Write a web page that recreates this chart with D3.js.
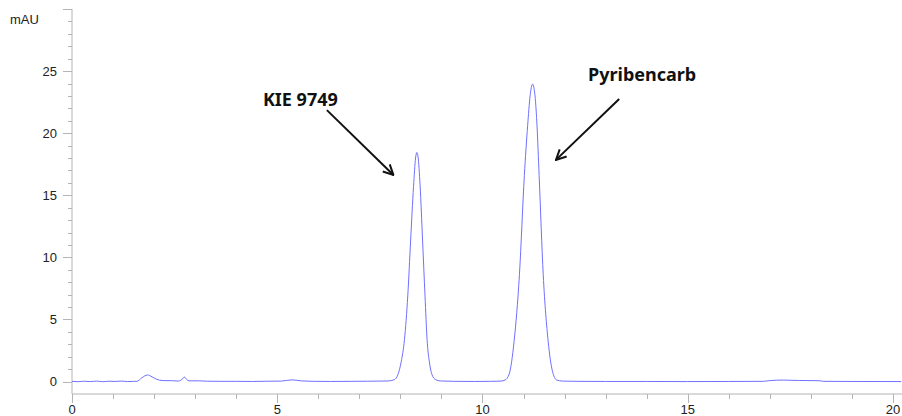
<!DOCTYPE html>
<html>
<head>
<meta charset="utf-8">
<script src="https://cdn.jsdelivr.net/npm/d3@7"></script>
<style>
  body { margin: 0; background: #fff; }
  svg { display: block; }
</style>
</head>
<body>
<div id="chart"></div>
<script>
// chromatogram trace: [time (min), signal (mAU)]
const baselineStart = [
  [0.00, 0.02], [0.15, -0.01], [0.30, 0.03], [0.45, 0.00], [0.60, 0.04], [0.75, -0.01],
  [0.90, 0.03], [1.05, 0.01], [1.20, 0.04], [1.35, 0.00], [1.50, 0.02], [1.58, 0.02],
  [1.70, 0.30], [1.84, 0.53], [1.95, 0.38], [2.05, 0.20], [2.22, 0.08], [2.45, 0.07],
  [2.59, 0.04], [2.68, 0.18], [2.74, 0.36], [2.79, 0.18], [2.85, 0.06], [3.10, 0.06],
  [3.30, 0.03], [3.60, 0.02], [4.00, 0.02], [4.40, 0.01], [4.80, 0.03], [5.10, 0.04],
  [5.36, 0.14], [5.60, 0.05], [5.90, 0.02], [6.30, 0.01], [6.80, 0.02], [7.20, 0.03],
  [7.50, 0.04]
];

const peakKie = [
  [7.70, 0.05], [7.85, 0.15], [7.94, 0.56], [8.02, 1.6], [8.10, 3.4], [8.18, 6.9],
  [8.25, 11.4], [8.32, 15.7], [8.37, 18.0], [8.40, 18.45], [8.43, 18.1], [8.48, 15.8],
  [8.54, 11.4], [8.60, 6.9], [8.65, 3.4], [8.71, 1.5], [8.77, 0.56], [8.86, 0.15],
  [8.98, 0.05]
];

const baselineMid = [[9.30, 0.02], [9.80, 0.01], [10.20, 0.02]];

const peakPyri = [
  [10.45, 0.04], [10.55, 0.12], [10.65, 0.6], [10.77, 3.24], [10.90, 8.6], [11.02, 16.6],
  [11.10, 20.6], [11.16, 23.0], [11.22, 23.95], [11.28, 23.0], [11.33, 20.5], [11.38, 16.6],
  [11.48, 8.6], [11.60, 3.24], [11.70, 0.9], [11.81, 0.12], [11.95, 0.04]
];

const baselineEnd = [
  [12.30, 0.02], [13.00, 0.01], [14.00, 0.01], [15.00, 0.00], [16.00, 0.01], [16.84, 0.02],
  [17.00, 0.08], [17.33, 0.12], [17.70, 0.09], [18.20, 0.07], [18.30, 0.02], [19.00, 0.01],
  [20.20, 0.00]
];

const xTicks = [0, 5, 10, 15, 20];
const yTicks = [0, 5, 10, 15, 20, 25];
const peakNames = ['KIE 9749', 'Pyribencarb'];

const trace = [].concat(baselineStart, peakKie, baselineMid, peakPyri, baselineEnd);

const width = 902;
const height = 416;
const margin = { top: 9, right: 0, bottom: 22, left: 72 };

const svg = d3.select('#chart')
  .append('svg')
  .attr('width', width)
  .attr('height', height);

const x = d3.scaleLinear()
  .domain([0, 20.22])
  .range([margin.left, width - margin.right]);

const y = d3.scaleLinear()
  .domain([-1, 30])
  .range([height - margin.bottom, margin.top]);

const axisColor = '#b4b4b4';
const labelColor = '#222';

// y axis
const gy = svg.append('g');
gy.append('line')
  .attr('x1', x(0)).attr('x2', x(0))
  .attr('y1', y(30)).attr('y2', y(-1))
  .attr('stroke', axisColor);
gy.selectAll('.minor')
  .data(d3.range(0, 30))
  .join('line')
  .attr('x1', x(0) - 4).attr('x2', x(0))
  .attr('y1', d => Math.round(y(d)) + 0.5).attr('y2', d => Math.round(y(d)) + 0.5)
  .attr('stroke', axisColor);
gy.selectAll('.major')
  .data(yTicks.concat([30]))
  .join('line')
  .attr('x1', x(0) - 9).attr('x2', x(0))
  .attr('y1', d => Math.round(y(d)) + 0.5).attr('y2', d => Math.round(y(d)) + 0.5)
  .attr('stroke', axisColor);
gy.selectAll('text')
  .data(yTicks)
  .join('text')
  .attr('x', x(0) - 15)
  .attr('y', d => y(d))
  .attr('dy', '0.35em')
  .attr('text-anchor', 'end')
  .attr('font-family', 'Liberation Sans, Arial, sans-serif')
  .attr('font-size', 13)
  .attr('fill', labelColor)
  .text(d => d);

svg.append('text')
  .attr('x', 10)
  .attr('y', 24)
  .attr('font-family', 'Liberation Sans, Arial, sans-serif')
  .attr('font-size', 13)
  .attr('fill', labelColor)
  .text('mAU');

// x axis
const gx = svg.append('g');
gx.append('line')
  .attr('x1', x(0)).attr('x2', width)
  .attr('y1', y(-1)).attr('y2', y(-1))
  .attr('stroke', axisColor);
gx.selectAll('.minor')
  .data(d3.range(0, 21))
  .join('line')
  .attr('x1', d => Math.round(x(d)) + 0.5).attr('x2', d => Math.round(x(d)) + 0.5)
  .attr('y1', y(-1)).attr('y2', y(-1) + 5)
  .attr('stroke', axisColor);
gx.selectAll('.major')
  .data(xTicks)
  .join('line')
  .attr('x1', d => Math.round(x(d)) + 0.5).attr('x2', d => Math.round(x(d)) + 0.5)
  .attr('y1', y(-1)).attr('y2', y(-1) + 9)
  .attr('stroke', axisColor);
gx.selectAll('text')
  .data(xTicks)
  .join('text')
  .attr('x', d => x(d))
  .attr('y', y(-1) + 20)
  .attr('text-anchor', 'middle')
  .attr('font-family', 'Liberation Sans, Arial, sans-serif')
  .attr('font-size', 13)
  .attr('fill', labelColor)
  .text(d => d);

// trace
const line = d3.line()
  .x(d => x(d[0]))
  .y(d => y(d[1]))
  .curve(d3.curveMonotoneX);

svg.append('path')
  .datum(trace)
  .attr('fill', 'none')
  .attr('stroke', '#7070ff')
  .attr('stroke-width', 1)
  .attr('d', line);

// annotations
svg.append('defs').append('marker')
  .attr('id', 'head')
  .attr('viewBox', '0 0 12 12')
  .attr('refX', 11).attr('refY', 6)
  .attr('markerWidth', 12).attr('markerHeight', 12)
  .attr('markerUnits', 'userSpaceOnUse')
  .attr('orient', 'auto')
  .append('path')
  .attr('d', 'M1,1 L11,6 L1,11')
  .attr('fill', 'none')
  .attr('stroke', '#111')
  .attr('stroke-width', 2);

const notes = [
  { text: peakNames[0], tx: 4.65, ty: 22.2, anchor: 'start', from: [6.21, 21.86], to: [7.83, 16.64] },
  { text: peakNames[1], tx: 13.89, ty: 24.2, anchor: 'middle', from: [13.33, 22.75], to: [11.79, 17.85] }
];

svg.selectAll('.note')
  .data(notes)
  .join('text')
  .attr('x', d => x(d.tx))
  .attr('y', d => y(d.ty))
  .attr('text-anchor', d => d.anchor)
  .attr('font-family', 'Noto Sans, sans-serif')
  .attr('font-weight', 'bold')
  .attr('font-size', 18)
  .attr('fill', '#111')
  .text(d => d.text);

svg.selectAll('.arrow')
  .data(notes)
  .join('line')
  .attr('x1', d => x(d.from[0])).attr('y1', d => y(d.from[1]))
  .attr('x2', d => x(d.to[0])).attr('y2', d => y(d.to[1]))
  .attr('stroke', '#111')
  .attr('stroke-width', 2)
  .attr('marker-end', 'url(#head)');
</script>
</body>
</html>
